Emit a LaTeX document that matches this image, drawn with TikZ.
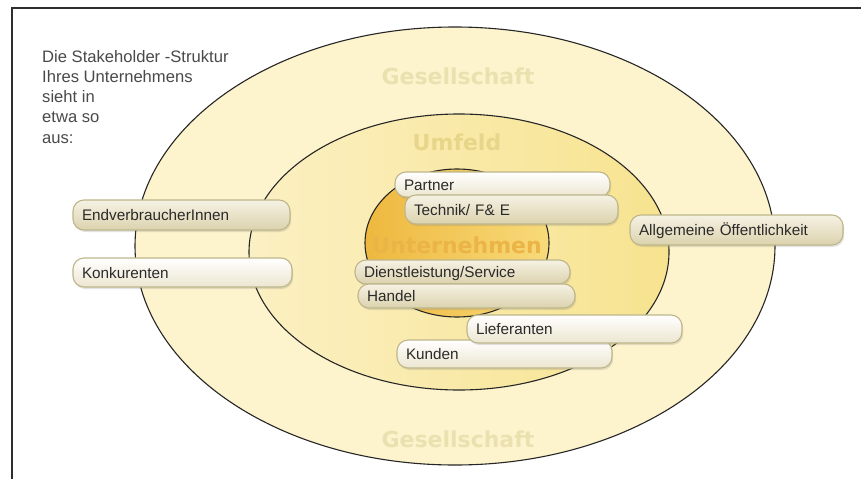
\documentclass[tikz,border=0pt]{standalone}
\usepackage{fontspec}
\setmainfont{Liberation Sans}
\newfontfamily\labfont{DejaVu Sans}
\usetikzlibrary{shadows}
\definecolor{framecol}{HTML}{2E2E2E}
\definecolor{outerfill}{HTML}{FDF3CC}
\definecolor{midleft}{HTML}{FBF0C2}
\definecolor{midright}{HTML}{F7E38F}
\definecolor{innleft}{HTML}{EEB83E}
\definecolor{innright}{HTML}{F8DA7A}
\definecolor{gestext}{HTML}{EBE1B0}
\definecolor{umftext}{HTML}{E7D68A}
\definecolor{untext}{HTML}{EBB446}
\definecolor{boxline}{HTML}{BEB68A}
\definecolor{beigetop}{HTML}{F6F2E4}
\definecolor{beigebot}{HTML}{DBD2AD}
\definecolor{whitebot}{HTML}{ECE6D0}
\definecolor{boxtext}{HTML}{2A2A2A}
\definecolor{introtext}{HTML}{4A4A4A}
\begin{document}
\begin{tikzpicture}[x=1pt,y=-1pt,
  ringline/.style={draw=black!85, line width=1.1pt},
  lab/.style={font=\labfont\bfseries\fontsize{22}{22}\selectfont, inner sep=0pt},
  sbox/.style={draw=boxline, line width=1.1pt, rounded corners=11pt,
    align=left, inner xsep=9pt, inner ysep=0pt, text height=12pt, text depth=1pt,
    text=boxtext, font=\fontsize{15.3}{18}\selectfont,
    drop shadow={opacity=0.22, shadow xshift=1.2pt, shadow yshift=-2pt}},
  beigebox/.style={sbox, top color=beigetop, bottom color=beigebot},
  whitebox/.style={sbox, top color=white, bottom color=whitebot}
]
\useasboundingbox (0,0) rectangle (861,479);
\fill[white] (0,0) rectangle (861,479);
\draw[line width=2pt, color=framecol] (12,479) -- (12,8) -- (861,8);

% rings
\path[ringline, fill=outerfill] (455,246) ellipse [x radius=320, y radius=219];
\path[ringline, left color=midleft, right color=midright] (459,252) ellipse [x radius=210, y radius=138];
\path[ringline, left color=innleft, right color=innright] (457,243) ellipse [x radius=92, y radius=74];

% ring labels
\node[lab, text=gestext] (g1) at (458,76) {Gesellschaft};
\node[lab, text=gestext] (g2) at (458,439) {Gesellschaft};
\node[lab, text=umftext] (umf) at (457,142) {Umfeld};
\node[lab, text=untext] (unt) at (457,245) {Unternehmen};

% intro text
\node[anchor=north west, align=left, inner sep=0pt, text=introtext,
      font=\fontsize{16.6}{20.2}\selectfont] (intro) at (42,50)
  {Die Stakeholder -Struktur\\Ihres Unternehmens\\sieht in\\etwa so\\aus:};

% boxes
\node[beigebox, minimum width=217pt, minimum height=30pt, text width=199pt] (endv) at (181.5,215) {EndverbraucherInnen};
\node[whitebox, minimum width=219pt, minimum height=29pt, text width=201pt] (konk) at (182.5,272.5) {Konkurenten};
\node[whitebox, minimum width=215pt, minimum height=25pt, text width=197pt] (partner) at (502.5,184.5) {Partner};
\node[beigebox, minimum width=213pt, minimum height=29pt, text width=195pt] (technik) at (511.5,209.5) {Technik/ F\& E};
\node[beigebox, minimum width=215pt, minimum height=24pt, text width=197pt] (dienst) at (462.5,272) {Dienstleistung/Service};
\node[beigebox, minimum width=217pt, minimum height=24pt, text width=199pt] (handel) at (466.5,296) {Handel};
\node[whitebox, minimum width=215pt, minimum height=28pt, text width=197pt] (kunden) at (504.5,354) {Kunden};
\node[whitebox, minimum width=215pt, minimum height=28pt, text width=197pt] (liefer) at (574.5,329) {Lieferanten};
\node[beigebox, minimum width=213pt, minimum height=30pt, text width=195pt] (allg) at (736.5,230) {Allgemeine Öffentlichkeit};
\end{tikzpicture}
\end{document}
